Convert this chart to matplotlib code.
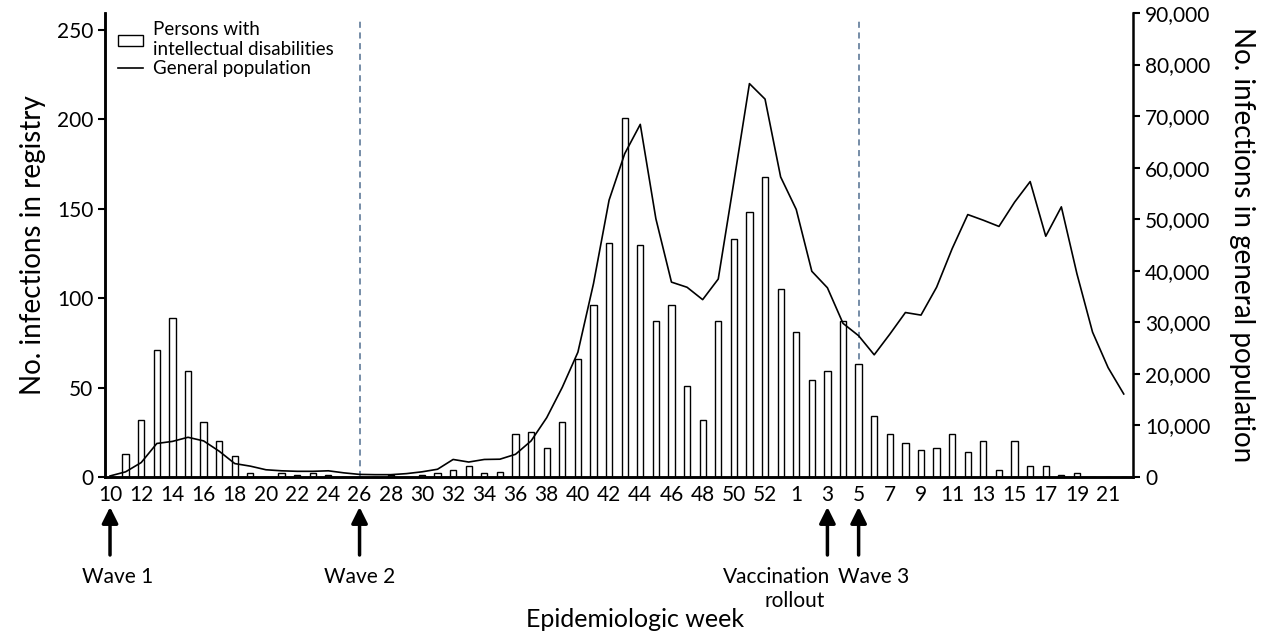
import numpy as np
import matplotlib
matplotlib.use("Agg")
import matplotlib.pyplot as plt
from matplotlib.ticker import FuncFormatter

plt.rcParams["font.family"] = ["Lato", "DejaVu Sans"]

# epidemiologic weeks: 2020 wk 10-53, then 2021 wk 1-22
weeks = [10, 11, 12, 13, 14, 15, 16, 17, 18, 19, 20, 21, 22, 23, 24, 25, 26, 27, 28, 29,
         30, 31, 32, 33, 34, 35, 36, 37, 38, 39, 40, 41, 42, 43, 44, 45, 46, 47, 48, 49,
         50, 51, 52, 53,
         1, 2, 3, 4, 5, 6, 7, 8, 9, 10, 11, 12, 13, 14, 15, 16, 17, 18, 19, 20, 21, 22]

# infections among persons with intellectual disabilities (registry)
registry = [0, 13, 32, 71, 89, 59, 31, 20, 12, 2, 0, 2, 1, 2, 1, 0, 0, 0, 1, 0,
            1, 2, 4, 6, 2, 3, 24, 25, 16, 31, 66, 96, 131, 201, 130, 87, 96, 51, 32, 87,
            133, 148, 168, 105,
            81, 54, 59, 87, 63, 34, 24, 19, 15, 16, 24, 14, 20, 4, 20, 6, 6, 1, 2, 0, 0, 0]

# infections in the general population
general = [200, 1000, 2800, 6500, 6900, 7700, 7000, 5000, 2600, 2100, 1400, 1200, 1100,
           1100, 1200, 800, 500, 450, 450, 650, 1000, 1500, 3400, 2900, 3400, 3450, 4400,
           7000, 11500, 17400, 24200, 37500, 53700, 62700, 68400, 50100, 37800, 36800,
           34400, 38400, 57200, 76300, 73300, 58200,
           51900, 39900, 36700, 29800, 27400, 23700, 27700, 31900, 31400, 36800, 44300,
           50900, 49800, 48600, 53300, 57300, 46700, 52400, 39400, 28100, 21200, 16100]

# shown tick labels (every other week)
tick_weeks = ["10", "12", "14", "16", "18", "20", "22", "24", "26", "28", "30", "32", "34",
              "36", "38", "40", "42", "44", "46", "48", "50", "52",
              "1", "3", "5", "7", "9", "11", "13", "15", "17", "19", "21"]

event_idx = [0, 16, 46, 48]

x = np.arange(len(weeks))

fig = plt.figure(figsize=(12.7, 6.37), dpi=100)
ax = fig.add_axes([0.0827, 0.2512, 0.8095, 0.7284])
ax2 = ax.twinx()

bars = ax.bar(x, registry, width=0.4, facecolor="white", edgecolor="black",
              linewidth=1.0, label="Persons with\nintellectual disabilities", zorder=2)
line, = ax2.plot(x, general, color="black", lw=1.2, label="General population")

for i in (16, 48):
    ax.axvline(i, ymin=0, ymax=0.985, color="#4f6d8f", lw=1.1, ls=(0, (4, 3)), zorder=1)

ax.set_xlim(-0.32, 65.6)
ax.set_ylim(0, 259.5)
ax2.set_ylim(0, 90000)
ax.set_yticks([0, 50, 100, 150, 200, 250])
ax2.set_yticks(np.arange(0, 90001, 10000))
ax2.yaxis.set_major_formatter(FuncFormatter(lambda v, p: f"{int(v):,}"))

tick_pos = [i for i, w in enumerate(weeks) if str(w) in tick_weeks and
            ((i < 44 and w % 2 == 0) or (i >= 44 and w % 2 == 1))]
ax.set_xticks(tick_pos)
ax.set_xticklabels([str(weeks[i]) for i in tick_pos])
ax.tick_params(axis="x", length=0, labelsize=15, pad=6)
ax.tick_params(axis="y", labelsize=15, width=1.5, length=5)
ax2.tick_params(axis="y", labelsize=15, width=1.5, length=5)

for a in (ax, ax2):
    a.spines["top"].set_visible(False)
    for s in ("left", "right", "bottom"):
        a.spines[s].set_linewidth(1.8)
ax.spines["right"].set_visible(False)

ax.set_ylabel("No. infections in registry", fontsize=20, labelpad=8)
ax2.set_ylabel("No. infections in general population", fontsize=20, rotation=270,
               labelpad=32)
fig.text(0.5, 0.027, "Epidemiologic week", fontsize=18, ha="center", va="center")

leg = ax.legend([bars, line], [bars.get_label(), line.get_label()], loc="upper left",
                bbox_to_anchor=(0.0, 1.01), frameon=False, fontsize=13.5,
                handlelength=1.35, handleheight=0.5, handletextpad=0.5,
                labelspacing=0.1, borderaxespad=0.3)

# arrows below the axis
for i in event_idx:
    ax.annotate("", xy=(i, 130), xytext=(i, 82), xycoords=("data", "figure pixels"),
                textcoords=("data", "figure pixels"),
                arrowprops=dict(arrowstyle="-|>", color="black", lw=2.5,
                                mutation_scale=24, shrinkA=0, shrinkB=0))

ax.annotate("Wave 1", xy=(0.5, 60), xycoords=("data", "figure pixels"), ha="center",
            va="center", fontsize=15)
ax.annotate("Wave 2", xy=(16, 60), xycoords=("data", "figure pixels"), ha="center",
            va="center", fontsize=15)
ax.annotate("Vaccination", xy=(46.2, 60), xycoords=("data", "figure pixels"), ha="right",
            va="center", fontsize=15)
ax.annotate("rollout", xy=(43.9, 36), xycoords=("data", "figure pixels"), ha="center",
            va="center", fontsize=15)
ax.annotate("Wave 3", xy=(46.7, 60), xycoords=("data", "figure pixels"), ha="left",
            va="center", fontsize=15)

fig.savefig("out.png", dpi=100)
